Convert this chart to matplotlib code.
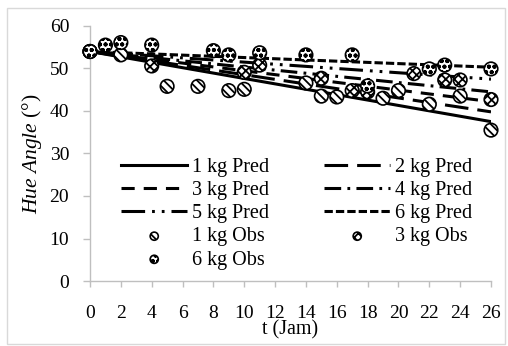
import matplotlib
matplotlib.use("Agg")
import matplotlib.pyplot as plt
from matplotlib.patches import Rectangle

plt.rcParams['font.family'] = ['Liberation Serif', 'DejaVu Serif']
plt.rcParams['mathtext.fontset'] = 'custom'
plt.rcParams['mathtext.rm'] = 'Liberation Serif'
plt.rcParams['mathtext.it'] = 'Liberation Serif:italic'
plt.rcParams['lines.scale_dashes'] = False
plt.rcParams['hatch.linewidth'] = 1.3

# predicted lines (start / end)
t_pred = [0, 26]
pred_1kg = [54.0, 37.5]
pred_2kg = [54.0, 39.8]
pred_3kg = [54.0, 42.2]
pred_4kg = [54.0, 44.5]
pred_5kg = [54.0, 47.5]
pred_6kg = [54.0, 50.3]

# observations
t_obs_1 = [0, 2, 5, 7, 9, 10, 14, 15, 16, 19, 20, 22, 24, 26]
obs_1 = [54.0, 53.2, 45.8, 45.8, 44.8, 45.1, 46.6, 43.5, 43.3, 43.0, 44.8, 41.6, 43.5, 35.5]
t_obs_3 = [0, 4, 10, 11, 15, 17, 18, 21, 23, 24, 26]
obs_3 = [54.0, 50.6, 49.1, 50.8, 47.7, 44.8, 44.5, 48.8, 47.3, 47.3, 42.7]
t_obs_6 = [0, 1, 2, 4, 8, 9, 11, 14, 17, 18, 22, 23, 26]
obs_6 = [54.0, 55.5, 56.1, 55.5, 54.2, 53.2, 53.7, 53.2, 53.2, 45.9, 49.9, 50.8, 49.9]

xticks = list(range(0, 27, 2))
yticks = list(range(0, 61, 10))

W, H = 508, 346
fig = plt.figure(figsize=(W / 100, H / 100), dpi=100)
ax = fig.add_axes([90 / W, 1 - 281 / H, (491 - 90) / W, (281 - 26) / H])

lw = 2.2
l1, = ax.plot(t_pred, pred_1kg, color='black', lw=lw, label='1 kg Pred')
l2, = ax.plot(t_pred, pred_2kg, color='black', lw=lw, dashes=(17, 6.5), label='2 kg Pred')
l3, = ax.plot(t_pred, pred_3kg, color='black', lw=lw, dashes=(9.5, 6.5), label='3 kg Pred')
l4, = ax.plot(t_pred, pred_4kg, color='black', lw=lw, dashes=(12, 4.5, 2, 4.5), label='4 kg Pred')
l5, = ax.plot(t_pred, pred_5kg, color='black', lw=lw, dashes=(17, 5, 2, 5, 2, 5), label='5 kg Pred')
l6, = ax.plot(t_pred, pred_6kg, color='black', lw=lw, dashes=(6, 2.2), label='6 kg Pred')

ms = 95
s1 = ax.scatter(t_obs_1, obs_1, s=ms, facecolor='white', edgecolor='black', linewidth=1.2,
                hatch='\\\\\\\\', label='1 kg Obs', clip_on=False, zorder=3)
s3 = ax.scatter(t_obs_3, obs_3, s=ms, facecolor='white', edgecolor='black', linewidth=1.2,
                hatch='xxxx', label='3 kg Obs', clip_on=False, zorder=3)
s6 = ax.scatter(t_obs_6, obs_6, s=ms, facecolor='white', edgecolor='black', linewidth=1.2,
                hatch='ooo', label='6 kg Obs', clip_on=False, zorder=3)

ax.set_xlim(0, 26)
ax.set_ylim(0, 60)
ax.set_xticks(xticks)
ax.set_yticks(yticks)
for sp in ['top', 'right']:
    ax.spines[sp].set_visible(False)
for sp in ['left', 'bottom']:
    ax.spines[sp].set_color('#bfbfbf')
    ax.spines[sp].set_linewidth(1.0)
ax.tick_params(axis='both', colors='#bfbfbf', labelcolor='black', labelsize=14, width=1.0)
ax.tick_params(axis='y', length=5, pad=10)
ax.tick_params(axis='x', length=4, pad=13)

ax.set_xlabel('t (Jam)', fontsize=14.5, labelpad=-1)
ax.set_ylabel(r'$\mathit{Hue\ Angle}$ (°)', fontsize=15.5, labelpad=4)

handles = [l1, l3, l5, s1, s6, l2, l4, l6, s3]
labels = [h.get_label() for h in handles]
leg = ax.legend(handles, labels, ncol=2, loc='upper left',
                bbox_to_anchor=((121 - 90) / (491 - 90), (281 - 158) / 255),
                frameon=False, fontsize=14.5, handlelength=3.3, handletextpad=0.25,
                columnspacing=2.7, labelspacing=0.2, borderpad=0, borderaxespad=0,
                scatterpoints=1, markerscale=0.6)

fig.patches.append(Rectangle((7 / W, 2 / H), (505 - 7) / W, (338 - 2) / H,
                             transform=fig.transFigure, fill=False,
                             edgecolor='#d9d9d9', linewidth=1.0))

fig.savefig('out.png', dpi=100)
